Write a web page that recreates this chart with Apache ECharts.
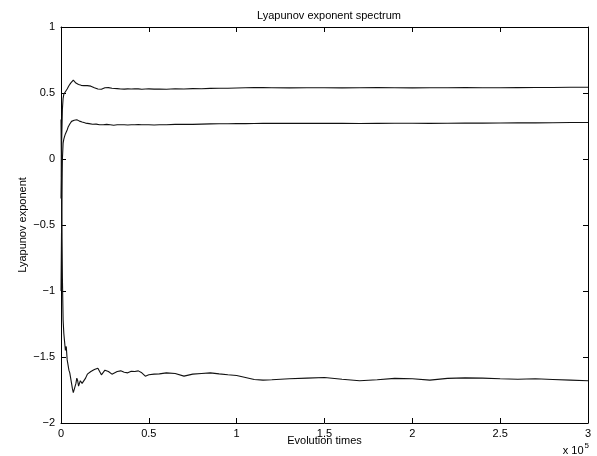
<!DOCTYPE html>
<html>
<head>
<meta charset="utf-8">
<script src="https://cdn.jsdelivr.net/npm/echarts@6/dist/echarts.min.js"></script>
<style>html,body{margin:0;padding:0;background:#fff}#c{width:597px;height:456px}</style>
</head>
<body>
<div id="c"></div>
<script>
// x in units of 10^5 evolution times
var xs = [0,0.004,0.008,0.012,0.016,0.02,
0.025,0.03,0.035,0.04,0.045,0.05,0.055,0.06,0.065,0.07,0.075,0.08,0.085,0.09,0.095,0.10,0.105,0.11,0.115,0.12,0.125,0.13,
0.14,0.15,0.16,0.17,0.18,0.19,0.20,0.21,0.22,0.23,0.24,0.25,0.26,0.27,0.28,0.29,0.30,
0.32,0.34,0.36,0.38,0.40,0.42,0.44,0.46,0.48,0.50,
0.53,0.56,0.60,
0.65,0.70,0.75,0.80,0.85,0.90,0.95,1.00,1.05,1.10,1.15,1.20,
1.30,1.40,1.50,1.60,1.70,1.80,1.90,2.00,2.10,2.20,2.30,2.40,2.50,2.60,2.70,2.80,2.90,3.00];

var lambda1 = [-0.3,0.15,0.38,0.46,0.49,0.50,
0.51,0.52,0.53,0.545,0.555,0.56,0.575,0.585,0.59,0.598,0.60,0.59,0.575,0.568,0.572,0.565,0.56,0.566,0.558,0.555,0.56,0.556,
0.553,0.556,0.55,0.552,0.545,0.54,0.535,0.53,0.532,0.528,0.533,0.54,0.543,0.541,0.538,0.536,0.537,
0.533,0.53,0.529,0.531,0.53,0.532,0.531,0.528,0.53,0.531,
0.529,0.53,0.528,
0.532,0.53,0.533,0.532,0.535,0.536,0.536,0.538,0.54,0.541,0.541,0.54,
0.539,0.54,0.54,0.539,0.54,0.541,0.54,0.539,0.54,0.54,0.541,0.54,0.54,0.541,0.542,0.542,0.543,0.543];

var lambda2 = [-1.0,-0.4,0.0,0.12,0.15,0.17,
0.19,0.2,0.22,0.24,0.255,0.265,0.275,0.285,0.29,0.296,0.293,0.283,0.29,0.298,0.30,0.295,0.287,0.29,0.284,0.28,0.278,0.276,
0.272,0.27,0.268,0.265,0.263,0.262,0.264,0.262,0.26,0.262,0.26,0.263,0.262,0.261,0.26,0.258,0.256,
0.259,0.26,0.26,0.258,0.259,0.26,0.261,0.26,0.259,0.26,
0.258,0.259,0.26,
0.262,0.263,0.262,0.264,0.266,0.267,0.267,0.268,0.268,0.269,0.27,0.27,
0.271,0.27,0.271,0.27,0.269,0.27,0.271,0.271,0.27,0.271,0.272,0.272,0.273,0.274,0.274,0.275,0.276,0.277];

var lambda3 = [0.3,-0.3,-0.9,-1.22,-1.32,-1.38,
-1.45,-1.42,-1.52,-1.56,-1.60,-1.62,-1.66,-1.70,-1.74,-1.77,-1.78,-1.76,-1.70,-1.66,-1.68,-1.72,-1.70,-1.68,-1.69,-1.70,-1.71,-1.69,
-1.66,-1.63,-1.62,-1.61,-1.60,-1.595,-1.59,-1.585,-1.60,-1.635,-1.62,-1.60,-1.605,-1.61,-1.62,-1.63,-1.625,
-1.61,-1.605,-1.615,-1.62,-1.608,-1.61,-1.605,-1.62,-1.645,-1.635,
-1.63,-1.628,-1.62,
-1.625,-1.645,-1.63,-1.625,-1.62,-1.628,-1.635,-1.64,-1.655,-1.67,-1.675,-1.672,
-1.665,-1.66,-1.655,-1.668,-1.68,-1.672,-1.662,-1.665,-1.675,-1.662,-1.658,-1.66,-1.665,-1.668,-1.665,-1.67,-1.675,-1.68];

var xTicks = [0,0.5,1,1.5,2,2.5,3];
var yTicks = [-2,-1.5,-1,-0.5,0,0.5,1];

function pairs(ys){ return xs.map(function(x,i){ return [x, ys[i]]; }); }
function fmt(v){ return String(v).replace('-', '\u2212'); }

var font = 'Liberation Sans, Arial, Helvetica, sans-serif';
var axisCommon = {
  axisLine: {show: true, onZero: false, lineStyle: {color: '#000', width: 1}},
  axisTick: {show: true, inside: true, length: 5, lineStyle: {color: '#000'}},
  splitLine: {show: false}
};

var chart = echarts.init(document.getElementById('c'), null, {renderer: 'canvas'});
chart.setOption({
  animation: false,
  backgroundColor: '#fff',
  title: {
    text: 'Lyapunov exponent spectrum',
    left: 324, top: 5, textAlign: 'center',
    textStyle: {fontFamily: font, fontSize: 11, fontWeight: 'normal', color: '#000'}
  },
  grid: {left: 61, right: 9, top: 27, bottom: 33, containLabel: false, outerBoundsMode: 'none'},
  xAxis: [
    Object.assign({type: 'value', min: 0, max: 3, interval: 0.5, position: 'bottom',
      name: 'Evolution times', nameLocation: 'middle', nameGap: 12, nameMoveOverlap: false,
      nameTextStyle: {fontFamily: font, fontSize: 11, color: '#000', verticalAlign: 'top'},
      axisLabel: {fontFamily: font, fontSize: 11, color: '#000', margin: 5, formatter: fmt}}, axisCommon),
    Object.assign({type: 'value', min: 0, max: 3, interval: 0.5, position: 'top',
      axisLabel: {show: false}}, axisCommon)
  ],
  yAxis: [
    Object.assign({type: 'value', min: -2, max: 1, interval: 0.5, position: 'left',
      name: 'Lyapunov exponent', nameLocation: 'middle', nameGap: 33, nameMoveOverlap: false,
      nameTextStyle: {fontFamily: font, fontSize: 11, color: '#000', verticalAlign: 'bottom'},
      axisLabel: {fontFamily: font, fontSize: 11, color: '#000', margin: 6, formatter: fmt}}, axisCommon),
    Object.assign({type: 'value', min: -2, max: 1, interval: 0.5, position: 'right',
      axisLabel: {show: false}}, axisCommon)
  ],
  graphic: [{
    type: 'text', right: 8, top: 442,
    style: {
      text: '{b|x 10}{s|5}',
      rich: {
        b: {fontFamily: font, fontSize: 11, fill: '#000', verticalAlign: 'bottom'},
        s: {fontFamily: font, fontSize: 8, fill: '#000', verticalAlign: 'top', padding: [0,0,6,1]}
      }
    }
  }],
  series: [lambda1, lambda2, lambda3].map(function(ys){
    return {type: 'line', data: pairs(ys), showSymbol: false, symbol: 'none',
      lineStyle: {color: '#111', width: 1.1}, xAxisIndex: 0, yAxisIndex: 0};
  })
});
</script>
</body>
</html>
